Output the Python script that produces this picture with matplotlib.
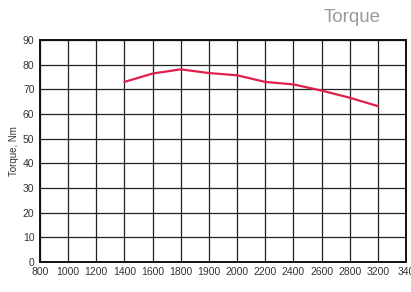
import matplotlib.pyplot as plt

rpm_labels = ['800', '1000', '1200', '1400', '1600', '1800', '1900', '2000',
              '2200', '2400', '2600', '2800', '3200', '340']
curve_pos = [3, 4, 5, 6, 7, 8, 9, 10, 11, 12]
torque = [73.0, 76.4, 78.1, 76.6, 75.7, 73.0, 72.0, 69.5, 66.6, 63.2]
y_ticks = [0, 10, 20, 30, 40, 50, 60, 70, 80, 90]

fnt = ['Liberation Sans Narrow', 'Liberation Sans', 'DejaVu Sans']

fig = plt.figure(figsize=(4.11, 2.92), dpi=100)
ax = fig.add_axes([40 / 411, 30 / 292, 366 / 411, 222 / 292])

ax.plot(curve_pos, torque, color='#e0204a', lw=1.6, solid_joinstyle='round',
        solid_capstyle='round', zorder=3)

ax.set_xlim(0, len(rpm_labels) - 1)
ax.set_ylim(0, 90)
ax.set_xticks(range(len(rpm_labels)))
ax.set_xticklabels(rpm_labels, family=fnt, fontsize=7.5, color='#333333')
ax.set_yticks(y_ticks)
ax.set_yticklabels([str(v) for v in y_ticks], family=fnt, fontsize=7.5, color='#333333')
ax.tick_params(axis='y', length=0, pad=4)
ax.tick_params(axis='x', length=0, pad=3.5)
ax.grid(True, color='#222222', lw=0.9)
ax.set_axisbelow(True)
for s in ax.spines.values():
    s.set_linewidth(1.4)
    s.set_color('#111111')

ax.set_ylabel('Torque, Nm', family=fnt, fontsize=7, color='#333333', labelpad=3)
fig.text(381 / 411, 1 - 18 / 292, 'Torque', ha='right', va='center',
         fontsize=13.5, color='#9a9a9a', family=fnt)

fig.savefig('out.png', dpi=100)
